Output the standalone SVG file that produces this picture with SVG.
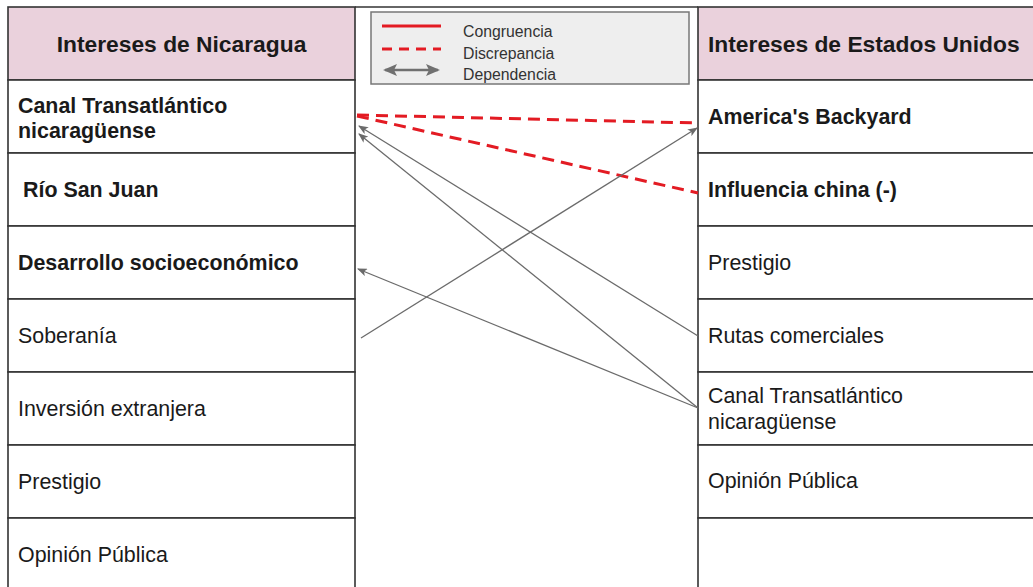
<svg xmlns="http://www.w3.org/2000/svg" width="1033" height="587" viewBox="0 0 1033 587">
  <style>
    text { font-family: "Liberation Sans", Arial, sans-serif; fill: #1a1a1a; }
    .hdr { font-size: 22.8px; font-weight: bold; }
    .b { font-size: 21.4px; font-weight: bold; }
    .r { font-size: 21.4px; }
    .lg { font-size: 15.8px; fill: #333; }
    .cell { fill: #ffffff; stroke: #333; stroke-width: 1.6; }
    .head { fill: #ead1dc; stroke: #333; stroke-width: 1.6; }
    .disc { stroke: #e31b23; stroke-width: 3; stroke-dasharray: 12 7; fill: none; }
    .dep { stroke: #6b6b6b; stroke-width: 1.3; fill: none; }
  </style>
  <defs>
    <marker id="ah" markerUnits="userSpaceOnUse" markerWidth="10" markerHeight="8" refX="9" refY="4" orient="auto">
      <path d="M0,0 L10,4 L0,8 L2.5,4 z" fill="#6b6b6b"/>
    </marker>
    <marker id="ahL" markerUnits="userSpaceOnUse" markerWidth="14" markerHeight="12" refX="12" refY="6" orient="auto-start-reverse">
      <path d="M0,0 L14,6 L0,12 L3,6 z" fill="#707070"/>
    </marker>
  </defs>
  <rect x="0" y="0" width="1033" height="587" fill="#ffffff"/>

  <!-- middle frame -->
  <line x1="355" y1="7" x2="698" y2="7" stroke="#333" stroke-width="1.6"/>

  <!-- Left table: Intereses de Nicaragua -->
  <g id="nic-header">
    <rect class="head" x="8" y="7" width="347" height="73"/>
    <text class="hdr" x="181.5" y="52" text-anchor="middle">Intereses de Nicaragua</text>
  </g>
  <g id="nic-canal">
    <rect class="cell" x="8" y="80" width="347" height="73"/>
    <text class="b" x="18" y="113">Canal Transatlántico</text>
    <text class="b" x="18" y="138">nicaragüense</text>
  </g>
  <g id="nic-rio">
    <rect class="cell" x="8" y="153" width="347" height="73"/>
    <text class="b" x="23" y="197">Río San Juan</text>
  </g>
  <g id="nic-desarrollo">
    <rect class="cell" x="8" y="226" width="347" height="73"/>
    <text class="b" x="18" y="270">Desarrollo socioeconómico</text>
  </g>
  <g id="nic-soberania">
    <rect class="cell" x="8" y="299" width="347" height="73"/>
    <text class="r" x="18" y="343">Soberanía</text>
  </g>
  <g id="nic-inversion">
    <rect class="cell" x="8" y="372" width="347" height="73"/>
    <text class="r" x="18" y="416">Inversión extranjera</text>
  </g>
  <g id="nic-prestigio">
    <rect class="cell" x="8" y="445" width="347" height="73"/>
    <text class="r" x="18" y="489">Prestigio</text>
  </g>
  <g id="nic-opinion">
    <rect class="cell" x="8" y="518" width="347" height="80"/>
    <text class="r" x="18" y="562">Opinión Pública</text>
  </g>

  <!-- Right table: Intereses de Estados Unidos -->
  <g id="us-header">
    <rect class="head" x="698" y="7" width="345" height="73"/>
    <text class="hdr" x="708" y="52">Intereses de Estados Unidos</text>
  </g>
  <g id="us-backyard">
    <rect class="cell" x="698" y="80" width="345" height="73"/>
    <text class="b" x="708" y="124">America's Backyard</text>
  </g>
  <g id="us-china">
    <rect class="cell" x="698" y="153" width="345" height="73"/>
    <text class="b" x="708" y="197">Influencia china (-)</text>
  </g>
  <g id="us-prestigio">
    <rect class="cell" x="698" y="226" width="345" height="73"/>
    <text class="r" x="708" y="270">Prestigio</text>
  </g>
  <g id="us-rutas">
    <rect class="cell" x="698" y="299" width="345" height="73"/>
    <text class="r" x="708" y="343">Rutas comerciales</text>
  </g>
  <g id="us-canal">
    <rect class="cell" x="698" y="372" width="345" height="73"/>
    <text class="r" x="708" y="403">Canal Transatlántico</text>
    <text class="r" x="708" y="429">nicaragüense</text>
  </g>
  <g id="us-opinion">
    <rect class="cell" x="698" y="445" width="345" height="73"/>
    <text class="r" x="708" y="488">Opinión Pública</text>
  </g>
  <g id="us-empty">
    <rect class="cell" x="698" y="518" width="345" height="80"/>
  </g>

  <!-- Legend -->
  <g id="legend">
    <rect x="371" y="12" width="318" height="72" fill="#eeeeee" stroke="#777" stroke-width="1.5"/>
    <line x1="382" y1="26" x2="441" y2="26" stroke="#e31b23" stroke-width="2.8"/>
    <line x1="382" y1="49" x2="441" y2="49" stroke="#e31b23" stroke-width="2.8" stroke-dasharray="10 7"/>
    <line x1="385" y1="70" x2="438" y2="70" stroke="#707070" stroke-width="2.5" marker-start="url(#ahL)" marker-end="url(#ahL)"/>
    <text class="lg" x="463" y="37">Congruencia</text>
    <text class="lg" x="463" y="59">Discrepancia</text>
    <text class="lg" x="463" y="80">Dependencia</text>
  </g>

  <!-- Connectors -->
  <g id="connectors">
    <line class="disc" x1="357" y1="115" x2="698" y2="123"/>
    <line class="disc" x1="357" y1="116" x2="698" y2="193"/>
    <line class="dep" x1="361" y1="338" x2="697" y2="128" marker-end="url(#ah)"/>
    <line class="dep" x1="698" y1="336" x2="359" y2="126" marker-end="url(#ah)"/>
    <line class="dep" x1="698" y1="408" x2="359" y2="134" marker-end="url(#ah)"/>
    <line class="dep" x1="698" y1="408" x2="358" y2="269" marker-end="url(#ah)"/>
  </g>
</svg>
